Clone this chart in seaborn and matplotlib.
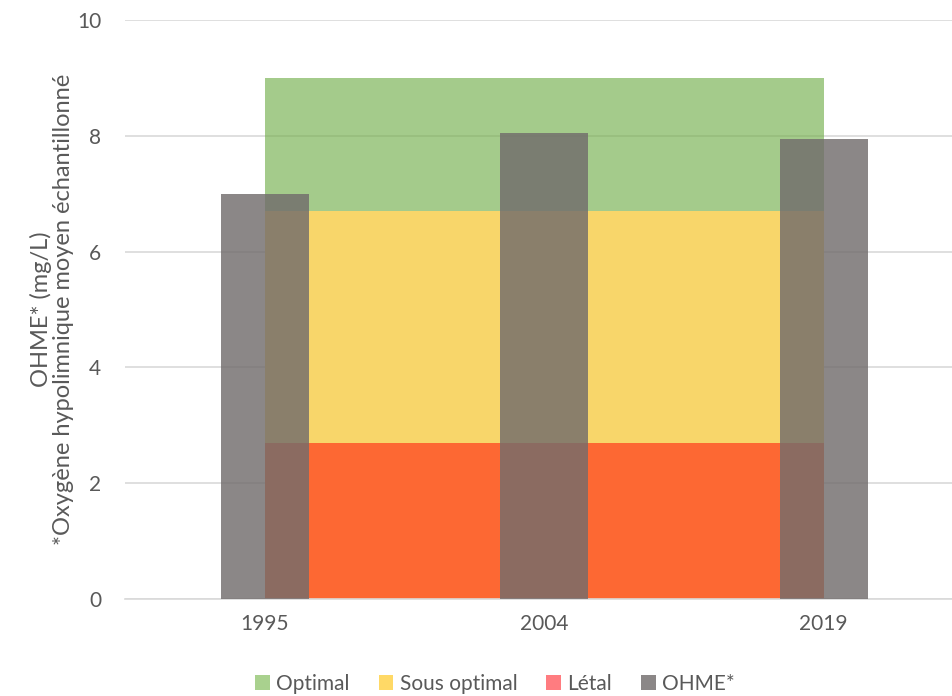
import matplotlib
matplotlib.use("Agg")
import matplotlib.pyplot as plt
from matplotlib.patches import Patch
import seaborn as sns
import pandas as pd

# Sampling years and mean hypolimnetic oxygen (mg/L)
years = ["1995", "2004", "2019"]
ohme = [7.0, 8.05, 7.95]

# Oxygen bands (stacked thicknesses, mg/L)
letal = [2.7, 2.7, 2.7]
sous_optimal = [4.0, 4.0, 4.0]
optimal = [2.3, 2.3, 2.3]

band_labels = ["Optimal", "Sous optimal", "Létal", "OHME*"]

sns.set_theme(style="white")
plt.rcParams["font.family"] = ["Lato", "DejaVu Sans"]

text_grey = "#595959"
grid_grey = "#D9D9D9"

fig = plt.figure(figsize=(9.53, 6.96), dpi=100)
ax = fig.add_axes([125 / 953, 1 - 599 / 696, 1 - 125 / 953, (599 - 20) / 696])

df = pd.DataFrame({"annee": years, "ohme": ohme})
xpos = list(range(len(years)))

# Stacked oxygen bands between the first and last sampling years
ax.stackplot(xpos, letal, sous_optimal, optimal,
             colors=["#FD6833", "#F8D66A", "#70AD47"], zorder=1)
for coll, a in zip(ax.collections, [1.0, 1.0, 0.63]):
    coll.set_alpha(a)
    coll.set_linewidth(0)

# Measured mean oxygen bars
sns.barplot(data=df, x="annee", y="ohme", color="#716C6C", saturation=1,
            alpha=0.815, width=0.314, ax=ax, zorder=3,
            edgecolor="none", linewidth=0)

ax.set_xlim(-0.5, -0.5 + (953 - 125) / 279.5)
ax.set_ylim(0, 10)
ax.set_yticks([0, 2, 4, 6, 8, 10])
ax.yaxis.grid(True, color=grid_grey, linewidth=1.2)
ax.set_axisbelow(True)
for side in ["top", "right", "left"]:
    ax.spines[side].set_visible(False)
ax.spines["bottom"].set_color(grid_grey)
ax.spines["bottom"].set_linewidth(1.2)

ax.tick_params(axis="both", length=0, labelsize=15, colors=text_grey)
ax.tick_params(axis="x", pad=11)
ax.tick_params(axis="y", pad=17)
ax.set_xlabel("")
ax.set_ylabel("OHME* (mg/L)\n*Oxygène hypolimnique moyen échantillonné",
              fontsize=17, color=text_grey, linespacing=1.05)
ax.yaxis.set_label_coords(-0.062, 0.5)

handles = [
    Patch(facecolor="#A9D18E", edgecolor="none"),
    Patch(facecolor="#FFD966", edgecolor="none"),
    Patch(facecolor="#FF7C80", edgecolor="none"),
    Patch(facecolor="#8B8787", edgecolor="none"),
]
leg = fig.legend(handles, band_labels, loc="center", ncol=4,
                 bbox_to_anchor=(495 / 953, 1 - 684 / 696), frameon=False,
                 fontsize=15, handlelength=0.7, handleheight=0.7,
                 handletextpad=0.3, columnspacing=1.4)
for t in leg.get_texts():
    t.set_color(text_grey)

fig.savefig("out.png", dpi=100)
